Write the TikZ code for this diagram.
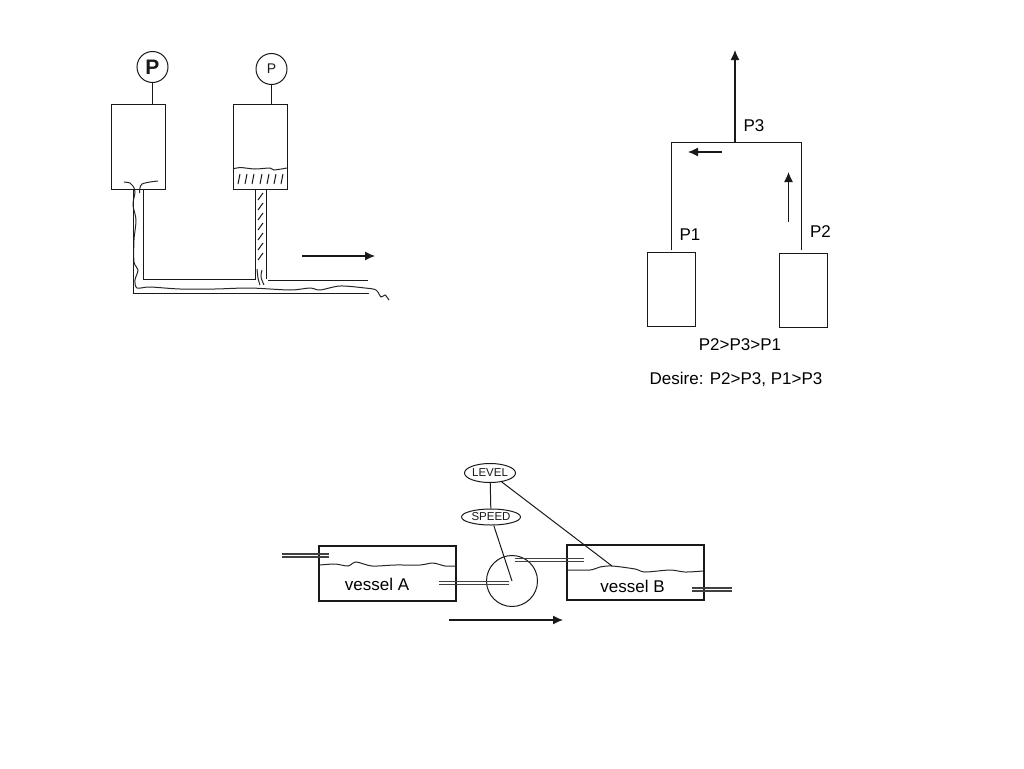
\documentclass[tikz,border=0pt]{standalone}
\usepackage{fontspec}
\setmainfont{Liberation Sans}
\usetikzlibrary{arrows.meta, shapes.geometric}
\tikzset{
  line/.style={line width=1pt, black!90},
  vessel/.style={line width=2.6pt, black!90},
  pipe/.style={line width=1.5pt, black!75},
  flow/.style={line width=1.2pt, black!90, -{Latex[length=10pt,width=9pt]}},
  gauge/.style={circle, draw, line, minimum size=31pt, inner sep=0pt},
  tag/.style={ellipse, draw, line, inner sep=0pt, font=\fontsize{11.5}{11.5}\selectfont},
  lbl/.style={font=\fontsize{17}{17}\selectfont, inner sep=0pt},
  wavy/.style={line width=1pt, black!85, smooth, tension=0.5}
}
\begin{document}
\begin{tikzpicture}[x=1pt, y=-1pt]
      \useasboundingbox (0, 0) rectangle (1024, 768);
      % gauges and tanks
      \draw[line] (111, 104) rectangle (165, 189)
                  (233, 104) rectangle (287, 189);
      \coordinate (topL) at (152.5, 104);
      \coordinate (topR) at (271.5, 104);
      \node (gaugeL) [gauge, font=\fontsize{21}{21}\selectfont\bfseries] at (152.5, 67) {P};
      \node (gaugeR) [gauge, font=\fontsize{14}{14}\selectfont] at (271.5, 69) {P};
      \draw[line] (gaugeL) -- (topL);
      \draw[line] (gaugeR) -- (topR);
      % liquid in the tanks
      \draw[wavy] plot coordinates {(124, 182) (130, 183) (133, 186) (135, 192) (133, 205) (136, 220) (134, 240) (134, 262) (138, 270) (135, 280) (137, 288) (150, 287) (180, 289) (215, 289) (250, 288) (290, 290) (310, 288) (320, 290) (340, 286) (365, 288) (376, 290) (381, 297) (385, 295) (389, 300)};
      \draw[wavy] plot coordinates {(158, 181) (150, 182) (142, 184) (140, 188) (139.5, 193)};
      \draw[wavy] plot coordinates {(233, 169) (240, 167.5) (255, 169) (270, 168) (274, 170) (287, 168)};
      \foreach \x in {238, 245, 252, 260, 267, 274, 281}
        \draw[line] (\x, 184) -- (\x + 2, 174);
      \foreach \y in {193, 203, 213, 223, 233, 243, 253}
        \draw[line] (258, \y + 7) -- (263, \y);
      \draw[wavy] plot coordinates {(257, 269) (258, 278) (260, 285)};
      \draw[wavy] plot coordinates {(262, 270) (261, 277) (264, 285)};
      % pipework
      \draw[line] (133.5, 189) -- (133.5, 293) -- (369, 293);
      \draw[line] (143.5, 189) -- (143.5, 279) -- (255, 279) -- (255, 189);
      \draw[line] (266, 189) -- (266, 279);
      \draw[line] (268, 280) -- (368, 280);
      \coordinate (flowA) at (302, 256);
      \coordinate (flowB) at (375, 256);
      \draw[flow] (flowA) -- (flowB);
      % pressure balance
      \node (tankA) [draw, line, minimum width=48pt, minimum height=74pt, inner sep=0pt] at (671, 289) {};
      \node (tankB) [draw, line, minimum width=47.5pt, minimum height=74pt, inner sep=0pt] at (803.5, 290) {};
      \coordinate (legA) at (671.5, 250);
      \coordinate (legB) at (801, 250);
      \coordinate (joint) at (735, 142);
      \coordinate (exit) at (735, 50);
      \draw[line] (legA) -- (671.5, 142) -- (801, 142) -- (legB);
      \draw[flow] (joint) -- (exit);
      \draw[flow] (722, 152) -- (688, 152);
      \draw[flow] (788.5, 222) -- (788.5, 172);
      \node (labP3) [lbl] at (754, 126) {P3};
      \node (labP1) [lbl] at (690, 235) {P1};
      \node (labP2) [lbl] at (820.5, 232) {P2};
      \node (labOrder) [lbl] at (740, 345) {P2>P3>P1};
      \node (labDesire) [lbl] at (736, 379) {Desire: P2>P3, P1>P3};
      % vessels and pump
      \draw[vessel] (319, 546) rectangle (456, 601)
                    (567, 545) rectangle (704, 600);
      \node (labA) [lbl] at (377, 584) {vessel A};
      \node (labB) [lbl] at (632.5, 586) {vessel B};
      \draw[wavy] plot coordinates {(320, 565) (335, 564) (348, 566) (356, 562) (372, 566) (395, 565) (420, 565) (433, 563) (445, 566) (456, 566)};
      \draw[wavy] plot coordinates {(568, 570) (590, 570) (600, 567) (612, 566) (635, 569) (645, 572) (670, 570) (685, 572) (703, 571)};
      \node (pump) [circle, draw, line, minimum size=51pt, inner sep=0pt] at (512, 581) {};
      \draw[pipe] (282, 554) -- (329, 554) (282, 557) -- (329, 557);
      \draw[pipe] (439, 581.5) -- (509, 581.5) (439, 584.5) -- (509, 584.5);
      \draw[pipe] (515, 558.5) -- (584, 558.5) (515, 561.5) -- (584, 561.5);
      \draw[pipe] (692, 588) -- (732, 588) (692, 591) -- (732, 591);
      \node (level) [tag, minimum width=51pt, minimum height=19pt] at (490, 473) {LEVEL};
      \node (speed) [tag, minimum width=59pt, minimum height=16pt] at (491, 517) {SPEED};
      \coordinate (probeP) at (512, 581);
      \coordinate (probeB) at (612, 566);
      \draw[line] (level) -- (speed);
      \draw[line] (speed) -- (probeP);
      \draw[line] (level) -- (probeB);
      \coordinate (flowC) at (449, 620);
      \coordinate (flowD) at (563, 620);
      \draw[flow] (flowC) -- (flowD);
\end{tikzpicture}
\end{document}
